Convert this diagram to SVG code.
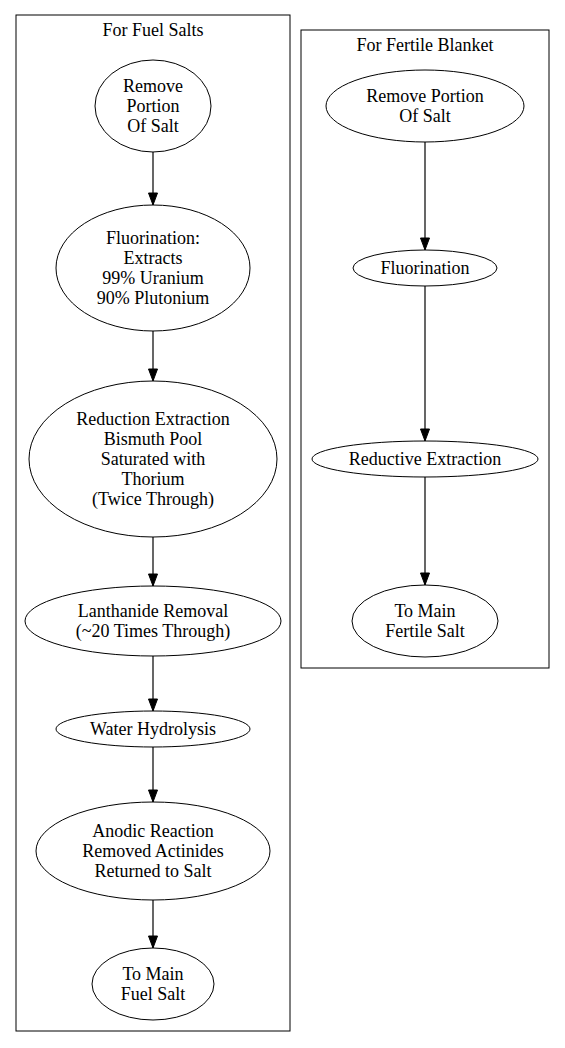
<svg xmlns="http://www.w3.org/2000/svg" width="565" height="1048" viewBox="0 0 565 1048">
<style>
.cl{fill:none;stroke:#000;stroke-width:1}
.nd{fill:#fff;stroke:#000;stroke-width:1}
.ed{fill:none;stroke:#000;stroke-width:1.2}
.t{font-family:'Liberation Serif','Times New Roman',serif;font-size:18px;fill:#000;text-anchor:middle}
</style>
<defs>
<marker id="ah" markerUnits="userSpaceOnUse" markerWidth="13" markerHeight="10" refX="12" refY="4.5" orient="auto" overflow="visible">
<path d="M0,0 L12,4.5 L0,9 z" fill="#000" stroke="#000" stroke-width="1"/>
</marker>
</defs>
<rect width="565" height="1048" fill="#fff"/>
<g id="cluster_fuel">
<rect class="cl" x="16" y="15" width="274" height="1016"/>
<text class="t" x="153" y="36">For Fuel Salts</text>
</g>
<g id="cluster_fertile">
<rect class="cl" x="301" y="30" width="248" height="638"/>
<text class="t" x="425" y="51">For Fertile Blanket</text>
</g>
<g id="connectors">
<line class="ed" x1="153" y1="152" x2="153" y2="205" marker-end="url(#ah)"/>
<line class="ed" x1="153" y1="331" x2="153" y2="381" marker-end="url(#ah)"/>
<line class="ed" x1="153" y1="537" x2="153" y2="586" marker-end="url(#ah)"/>
<line class="ed" x1="153" y1="656" x2="153" y2="711" marker-end="url(#ah)"/>
<line class="ed" x1="153" y1="747" x2="153" y2="802" marker-end="url(#ah)"/>
<line class="ed" x1="153" y1="900" x2="153" y2="948" marker-end="url(#ah)"/>
<line class="ed" x1="425" y1="142" x2="425" y2="250" marker-end="url(#ah)"/>
<line class="ed" x1="425" y1="286" x2="425" y2="441" marker-end="url(#ah)"/>
<line class="ed" x1="425" y1="477" x2="425" y2="585" marker-end="url(#ah)"/>
</g>
<g id="f1">
<ellipse class="nd" cx="153" cy="106" rx="58" ry="46"/>
<text class="t" x="153" y="92">Remove</text><text class="t" x="153" y="112">Portion</text><text class="t" x="153" y="132">Of Salt</text>
</g>
<g id="f2">
<ellipse class="nd" cx="153" cy="268" rx="97" ry="63"/>
<text class="t" x="153" y="244">Fluorination:</text><text class="t" x="153" y="264">Extracts</text><text class="t" x="153" y="284">99% Uranium</text><text class="t" x="153" y="304">90% Plutonium</text>
</g>
<g id="f3">
<ellipse class="nd" cx="153" cy="459" rx="124" ry="78"/>
<text class="t" x="153" y="425">Reduction Extraction</text><text class="t" x="153" y="445">Bismuth Pool</text><text class="t" x="153" y="465">Saturated with</text><text class="t" x="153" y="485">Thorium</text><text class="t" x="153" y="505">(Twice Through)</text>
</g>
<g id="f4">
<ellipse class="nd" cx="153" cy="621" rx="128" ry="35"/>
<text class="t" x="153" y="617">Lanthanide Removal</text><text class="t" x="153" y="637">(~20 Times Through)</text>
</g>
<g id="f5">
<ellipse class="nd" cx="153" cy="729" rx="97" ry="18"/>
<text class="t" x="153" y="735">Water Hydrolysis</text>
</g>
<g id="f6">
<ellipse class="nd" cx="153" cy="851" rx="117" ry="49"/>
<text class="t" x="153" y="837">Anodic Reaction</text><text class="t" x="153" y="857">Removed Actinides</text><text class="t" x="153" y="877">Returned to Salt</text>
</g>
<g id="f7">
<ellipse class="nd" cx="153" cy="984" rx="61" ry="36"/>
<text class="t" x="153" y="980">To Main</text><text class="t" x="153" y="1000">Fuel Salt</text>
</g>
<g id="b1">
<ellipse class="nd" cx="425" cy="106" rx="99" ry="36"/>
<text class="t" x="425" y="102">Remove Portion</text><text class="t" x="425" y="122">Of Salt</text>
</g>
<g id="b2">
<ellipse class="nd" cx="425" cy="268" rx="72" ry="18"/>
<text class="t" x="425" y="274">Fluorination</text>
</g>
<g id="b3">
<ellipse class="nd" cx="425" cy="459" rx="113" ry="18"/>
<text class="t" x="425" y="465">Reductive Extraction</text>
</g>
<g id="b4">
<ellipse class="nd" cx="425" cy="621" rx="73" ry="36"/>
<text class="t" x="425" y="617">To Main</text><text class="t" x="425" y="637">Fertile Salt</text>
</g>
</svg>
